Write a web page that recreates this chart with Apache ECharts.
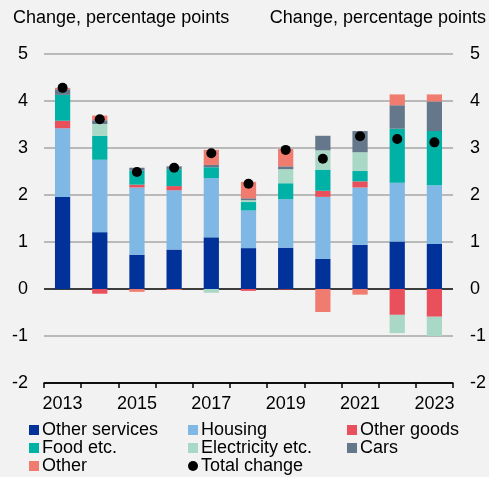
<!DOCTYPE html>
<html>
<head>
<meta charset="utf-8">
<script src="https://cdn.jsdelivr.net/npm/echarts@6/dist/echarts.min.js"></script>
<style>
  html, body { margin: 0; padding: 0; background: #f2f2f2; }
  #chart { width: 489px; height: 477px; }
</style>
</head>
<body>
<div id="chart"></div>
<script>
// contributions to inflation, percentage points
const years = ['2013', '2014', '2015', '2016', '2017', '2018', '2019', '2020', '2021', '2022', '2023'];
const otherServices = [1.96, 1.21, 0.73, 0.84, 1.10, 0.87, 0.88, 0.64, 0.94, 1.01, 0.96];
const housing = [1.46, 1.54, 1.43, 1.26, 1.26, 0.80, 1.03, 1.32, 1.22, 1.25, 1.25];
const otherGoods = [0.16, -0.10, 0.06, 0.09, 0, -0.04, -0.01, 0.13, 0.13, -0.55, -0.59];
const food = [0.55, 0.51, 0.30, 0.36, 0.23, 0.18, 0.34, 0.45, 0.22, 1.15, 1.15];
const electricity = [0, 0.25, 0, 0, -0.08, 0.04, 0.30, 0.41, 0.40, -0.39, -0.41];
const cars = [0.12, 0.08, 0.06, 0.06, 0.05, 0.04, 0.06, 0.31, 0.45, 0.50, 0.63];
const other = [0.03, 0.10, -0.06, -0.02, 0.32, 0.35, 0.37, -0.49, -0.12, 0.23, 0.15];
const totalChange = [4.28, 3.61, 2.49, 2.58, 2.89, 2.24, 2.96, 2.77, 3.25, 3.19, 3.12];

const font = 'Liberation Sans, Arial, sans-serif';
const fs = 18;

const bar = (name, data, color) => ({
  name: name,
  type: 'bar',
  stack: 'total',
  data: data,
  barWidth: '41%',
  itemStyle: { color: color },
  emphasis: { disabled: true }
});

const series = [
  bar('Other services', otherServices, '#003299'),
  bar('Housing', housing, '#7fb8e5'),
  bar('Other goods', otherGoods, '#ea505b'),
  bar('Food etc.', food, '#00b1a6'),
  bar('Electricity etc.', electricity, '#a9d8c6'),
  bar('Cars', cars, '#65788b'),
  bar('Other', other, '#f07b6f'),
  {
    name: 'Total change',
    type: 'scatter',
    data: totalChange,
    symbolSize: 10,
    itemStyle: { color: '#000', opacity: 1 },
    emphasis: { disabled: true },
    z: 5
  }
];

const legendBase = {
  orient: 'vertical',
  top: 421,
  itemWidth: 10,
  itemHeight: 10,
  itemGap: 0,
  icon: 'rect',
  textStyle: { fontFamily: font, fontSize: fs, color: '#000', padding: [0, 0, 0, -2], lineHeight: 18 },
  padding: 0
};

const option = {
  backgroundColor: '#f2f2f2',
  animation: false,
  textStyle: { fontFamily: font },
  graphic: [
    { type: 'text', left: 13, top: 9, style: { text: 'Change, percentage points', font: fs + 'px ' + font, fill: '#000' } },
    { type: 'text', right: 3, top: 9, style: { text: 'Change, percentage points', font: fs + 'px ' + font, fill: '#000' } }
  ],
  grid: { left: 44, right: 33, top: 54, bottom: 94 },
  legend: [
    Object.assign({}, legendBase, { left: 29, data: ['Other services', 'Food etc.', 'Other'] }),
    Object.assign({}, legendBase, { left: 188, data: ['Housing', 'Electricity etc.', { name: 'Total change', icon: 'circle' }] }),
    Object.assign({}, legendBase, { left: 347, data: ['Other goods', 'Cars'] })
  ],
  xAxis: {
    type: 'category',
    data: years,
    position: 'bottom',
    axisLine: { show: true, onZero: false, lineStyle: { color: '#000', width: 1.5 } },
    axisTick: { show: true, interval: 0, length: 5, lineStyle: { color: '#000', width: 1.5 } },
    axisLabel: { interval: 1, color: '#000', fontSize: fs, fontFamily: font, margin: 12 },
    splitLine: { show: false }
  },
  yAxis: [
    {
      type: 'value', min: -2, max: 5, interval: 1, position: 'left',
      axisLine: { show: false }, axisTick: { show: false },
      axisLabel: { color: '#000', fontSize: fs, fontFamily: font, margin: 16 },
      splitLine: {
        show: true, showMinLine: true, showMaxLine: true,
        lineStyle: { color: ['#000', '#a6a6a6', '#000', '#a6a6a6', '#a6a6a6', '#a6a6a6', '#a6a6a6', '#a6a6a6'], width: 1.5 }
      }
    },
    {
      type: 'value', min: -2, max: 5, interval: 1, position: 'right',
      axisLine: { show: false }, axisTick: { show: false },
      axisLabel: { color: '#000', fontSize: fs, fontFamily: font, margin: 17 },
      splitLine: { show: false }
    }
  ],
  series: series
};

const chart = echarts.init(document.getElementById('chart'), null, { renderer: 'canvas' });
chart.setOption(option);
</script>
</body>
</html>
